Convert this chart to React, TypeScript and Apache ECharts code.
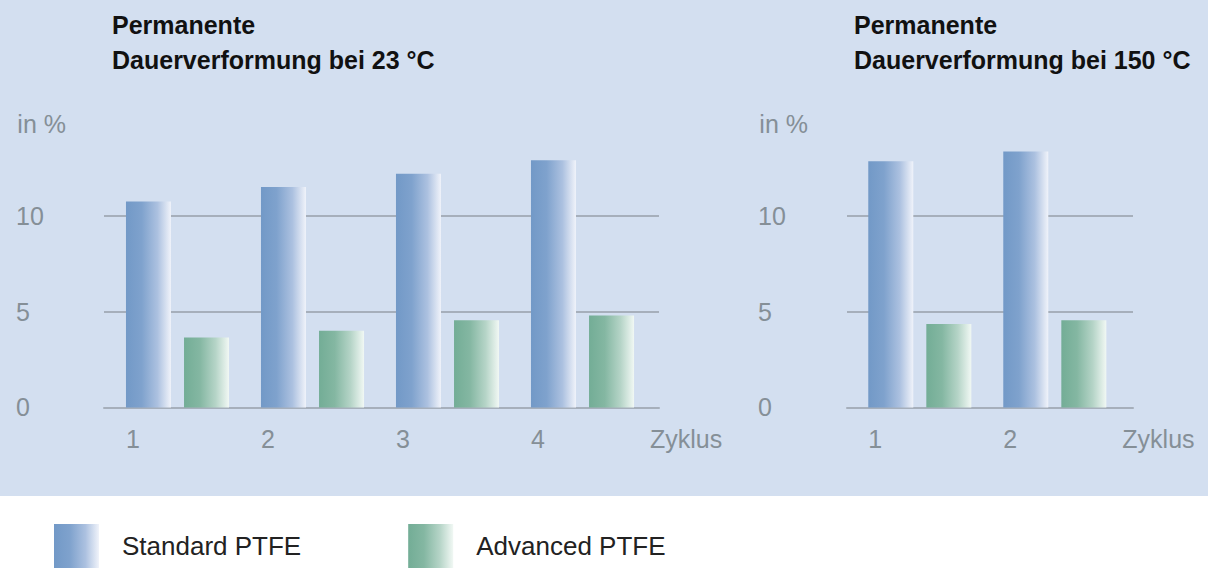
import React, { useEffect, useRef } from "react";
import * as echarts from "echarts";

// ---- data ----
const cycles23 = ["1", "2", "3", "4"];
const standard23 = [10.75, 11.5, 12.2, 12.9];
const advanced23 = [3.65, 4.0, 4.55, 4.8];

const cycles150 = ["1", "2"];
const standard150 = [12.85, 13.35];
const advanced150 = [4.35, 4.55];

const seriesNames = ["Standard PTFE", "Advanced PTFE"];
const titles = ["Permanente\nDauerverformung bei 23 °C", "Permanente\nDauerverformung bei 150 °C"];
const yUnit = "in %";
const xName = "Zyklus";
const yMax = 15;
const yStep = 5;

const FONT = "'Liberation Sans', Arial, Helvetica, sans-serif";
const GREY = "#858f97";
const LINE = "#a6afbb";

const blueGrad = {
  type: "linear", x: 0, y: 0, x2: 1, y2: 0,
  colorStops: [
    { offset: 0, color: "#7299c7" },
    { offset: 0.35, color: "#7fa2cd" },
    { offset: 0.7, color: "#acc1e0" },
    { offset: 1, color: "#f0f3fa" },
  ],
};
const greenGrad = {
  type: "linear", x: 0, y: 0, x2: 1, y2: 0,
  colorStops: [
    { offset: 0, color: "#73ad96" },
    { offset: 0.35, color: "#84b7a2" },
    { offset: 0.7, color: "#b5d4c7" },
    { offset: 1, color: "#f1f8f4" },
  ],
};

function frameAxes(gridIndex: number, labelMargin: number, namePadRight: number) {
  const x = {
    type: "value", gridIndex, min: 0, max: 1,
    axisLine: { show: true, lineStyle: { color: LINE, width: 2 } },
    axisTick: { show: false }, axisLabel: { show: false }, splitLine: { show: false },
  };
  const y = {
    type: "value", gridIndex, min: 0, max: yMax, interval: yStep,
    name: yUnit, nameLocation: "end", nameGap: -4,
    nameTextStyle: { color: GREY, fontSize: 25, fontFamily: FONT, align: "right", verticalAlign: "middle", padding: [0, namePadRight, 0, 0] },
    axisLine: { show: false }, axisTick: { show: false },
    axisLabel: { color: GREY, fontSize: 25, fontFamily: FONT, align: "left", margin: labelMargin, showMaxLabel: false },
    splitLine: { show: true, lineStyle: { color: [LINE, LINE, LINE, "transparent"], width: 2 } },
  };
  return { x, y };
}

function barAxes(gridIndex: number, cats: string[]) {
  const x = {
    type: "category", gridIndex, data: cats,
    name: xName, nameLocation: "end", nameGap: 0,
    nameTextStyle: { color: GREY, fontSize: 25, fontFamily: FONT, align: "left", verticalAlign: "top", lineHeight: 64 },
    axisLine: { show: false }, axisTick: { show: false },
    axisLabel: { color: GREY, fontSize: 25, fontFamily: FONT, margin: 19, padding: [0, 89, 0, 0] },
    splitLine: { show: false },
  };
  const y = { type: "value", gridIndex, min: 0, max: yMax, interval: yStep, show: false };
  return { x, y };
}

export default function App() {
  const ref = useRef<HTMLDivElement>(null);
  useEffect(() => {
    document.body.style.margin = "0";
    if (!ref.current) return;
    const chart = echarts.init(ref.current, undefined, { renderer: "svg" });

    const f1 = frameAxes(0, 88, 38);
    const b1 = barAxes(1, cycles23);
    const f2 = frameAxes(2, 89, 39);
    const b2 = barAxes(3, cycles150);

    const top = 120;
    const height = 287.4;

    const bar = (name: string, data: number[], axis: number, color: any) => ({
      type: "bar", name, data, xAxisIndex: axis, yAxisIndex: axis,
      barWidth: 45, barGap: "29%", itemStyle: { color },
    });

    const option: any = {
      animation: false,
      backgroundColor: "#ffffff",
      textStyle: { fontFamily: FONT },
      graphic: [
        { type: "rect", z: -10, silent: true, shape: { x: 0, y: 0, width: 1208, height: 496 }, style: { fill: "#d3dff0" } },
      ],
      title: [
        { text: titles[0], left: 112, top: 7, padding: 0, textStyle: { fontSize: 25, fontWeight: 600, color: "#111", lineHeight: 35, fontFamily: FONT } },
        { text: titles[1], left: 854, top: 7, padding: 0, textStyle: { fontSize: 25, fontWeight: 600, color: "#111", lineHeight: 35, fontFamily: FONT } },
      ],
      legend: {
        data: seriesNames, left: 54, top: 524, padding: 0,
        itemWidth: 45, itemHeight: 44, itemGap: 107, icon: "rect", selectedMode: false,
        textStyle: { fontSize: 26, color: "#222", fontFamily: FONT, padding: [0, 0, 0, 18] },
      },
      grid: [
        { left: 104, top, width: 555, height },
        { left: 110, top, width: 540, height },
        { left: 847, top, width: 286, height },
        { left: 852.3, top, width: 270, height },
      ],
      xAxis: [f1.x, b1.x, f2.x, b2.x],
      yAxis: [f1.y, b1.y, f2.y, b2.y],
      series: [
        bar(seriesNames[0], standard23, 1, blueGrad),
        bar(seriesNames[1], advanced23, 1, greenGrad),
        bar(seriesNames[0], standard150, 3, blueGrad),
        bar(seriesNames[1], advanced150, 3, greenGrad),
      ],
    };
    chart.setOption(option);
    return () => chart.dispose();
  }, []);
  return <div ref={ref} style={{ width: 1208, height: 568 }} />;
}
